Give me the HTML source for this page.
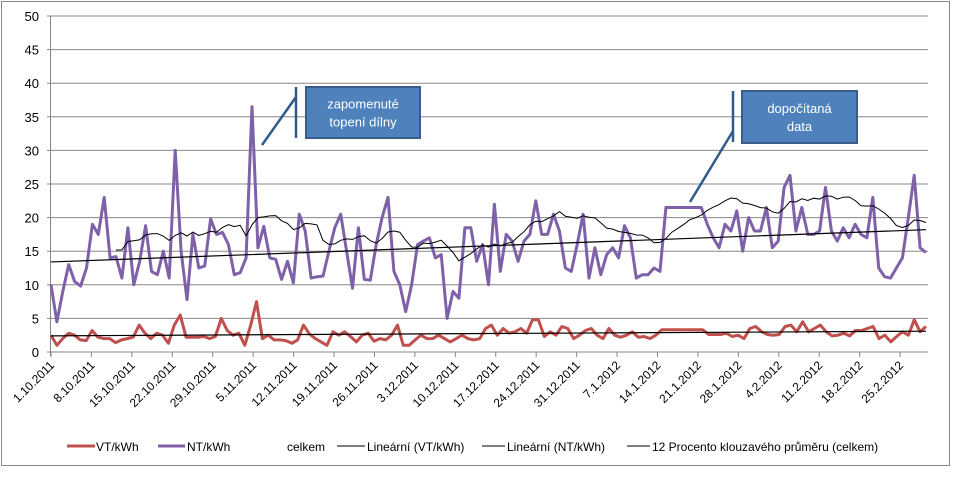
<!DOCTYPE html>
<html><head><meta charset="utf-8"><style>
body{margin:0;background:#fff;}
svg text{font-family:"Liberation Sans",sans-serif;}
</style></head><body>
<svg id="s" width="953" height="480" xmlns="http://www.w3.org/2000/svg">
<rect x="1.5" y="1.5" width="948" height="464" fill="#fff" stroke="#888" stroke-width="1"/>
<g id="g"></g>
</svg>
<script>
var NS="http://www.w3.org/2000/svg",g=document.getElementById('g');
function el(t,a,txt){var e=document.createElementNS(NS,t);for(var k in a)e.setAttribute(k,a[k]);if(txt!=null)e.textContent=txt;g.appendChild(e);return e;}
var X0=51,X1=926,Y0=352,S=6.72;
function Y(v){return Y0-v*S;}
for(var v=0;v<=50;v+=5){var y=Y(v);el('line',{x1:47,x2:X1+2,y1:y,y2:y,stroke:v?'#878787':'#878787','stroke-width':1});
el('text',{x:39,y:y+5,'text-anchor':'end','font-size':'13',fill:'#000'},v);}
el('line',{x1:50.5,x2:50.5,y1:Y(50),y2:Y0+4,stroke:'#878787'});
var labels=['1.10.2011','8.10.2011','15.10.2011','22.10.2011','29.10.2011','5.11.2011','12.11.2011','19.11.2011','26.11.2011','3.12.2011','10.12.2011','17.12.2011','24.12.2011','31.12.2011','7.1.2012','14.1.2012','21.1.2012','28.1.2012','4.2.2012','11.2.2012','18.2.2012','25.2.2012'];
var dpx=5.776;
labels.forEach(function(l,i){var x=X0+i*7*dpx;el('line',{x1:x,x2:x,y1:Y0,y2:Y0+5,stroke:'#878787'});
var t=el('text',{x:x+4,y:Y0+14,'text-anchor':'end','font-size':'12',transform:'rotate(-45 '+(x+4)+' '+(Y0+14)+')'},l);});
var NT=[10,4.5,9,13,10.5,9.8,12.5,19,17.5,23,14,14.2,11,18.5,10,13.5,18.8,12,11.5,15,11,30,15,7.8,17.5,12.5,12.8,19.8,17.5,17.8,16,11.5,11.8,14,36.5,15.5,18.7,14,13.8,10.8,13.5,10.3,20.5,18,11,11.2,11.3,15,18.5,20.5,15,9.5,18.5,10.8,10.7,16,20,23,12,10,6,10,16,16.5,17,14,14.5,5,9,8,18.5,18.5,13.5,16,10,22,12,17.5,16.5,13.5,16.5,17.5,22.5,17.5,17.5,20.5,18,12.5,12,16,20.5,11,15.5,11.5,14.5,15.5,14,18.8,17,11,11.5,11.5,12.5,12,21.5,21.5,21.5,21.5,21.5,21.5,21.5,19,17,15.5,19,18,21,15,20,18,18,21.5,15.5,16.5,24.5,26.3,18,21.5,17.5,17.5,18,24.5,18,16.5,18.5,17,19,17.5,17,23,12.5,11.2,11,12.5,14,20,26.3,15.5,14.8];
var VT=[2.5,1,2,2.8,2.5,1.8,1.7,3.2,2.2,2,2,1.4,1.8,2,2.2,4,2.8,2,2.8,2.5,1.3,4,5.5,2.2,2.2,2.2,2.3,2,2.3,5,3.2,2.5,2.8,1,4,7.5,2,2.5,1.8,1.8,1.7,1.3,1.8,4,2.7,2,1.5,1,3,2.5,3,2.3,1.5,2.5,2.8,1.6,2,1.8,2.5,4,1,1,1.8,2.5,2,2,2.5,2,1.5,2,2.5,2,1.8,2,3.5,4,2.5,3.5,2.8,3,3.5,2.8,4.8,4.8,2.3,3,2.5,3.8,3.5,2,2.5,3.2,3.5,2.5,2,3.5,2.5,2.2,2.5,3,2.2,2.3,2,2.5,3.3,3.3,3.3,3.3,3.3,3.3,3.3,3.3,2.6,2.6,2.6,2.8,2.3,2.5,2,3.5,3.8,3,2.6,2.5,2.6,3.8,4,3,4.5,3,3.5,4,3,2.4,2.5,2.8,2.4,3.2,3.2,3.5,3.8,2,2.5,1.5,2.3,3,2.5,4.8,3,3.8];
function xs(i,n){return X0+i*(X1-X0)/(n-1);}
function pts(a){return a.map(function(v,i){return xs(i,a.length).toFixed(1)+','+Y(v).toFixed(1);}).join(' ');}
// moving avg
var n=NT.length,ma=[];
for(var i=11;i<n;i++){var s=0;for(var j=i-11;j<=i;j++){s+=NT[j]+(VT[Math.round(j*(VT.length-1)/(n-1))]||2.5);}ma.push(xs(i,n).toFixed(1)+','+Y(s/12).toFixed(1));}
el('polyline',{points:pts(NT),fill:'none',stroke:'#7E61A8','stroke-width':3,'stroke-linejoin':'round'});
el('polyline',{points:pts(VT),fill:'none',stroke:'#C0504D','stroke-width':3,'stroke-linejoin':'round'});
el('polyline',{points:ma.join(' '),fill:'none',stroke:'#000','stroke-width':1});
el('line',{x1:X0,y1:Y(13.4),x2:X1,y2:Y(18.2),stroke:'#000','stroke-width':1.2});
el('line',{x1:X0,y1:Y(2.4),x2:X1,y2:Y(3.1),stroke:'#000','stroke-width':1.2});
// callouts
function callout(bx,by,bw,bh,lx,ly1,ly2,dx,dy,px,py,l1,l2){
el('line',{x1:lx,x2:lx,y1:ly1,y2:ly2,stroke:'#2F5A8A','stroke-width':2.5});
el('line',{x1:lx,y1:dy,x2:px,y2:py,stroke:'#2F5A8A','stroke-width':2.5});
el('rect',{x:bx,y:by,width:bw,height:bh,fill:'#4F81BD',stroke:'#385D8A','stroke-width':2});
el('text',{x:bx+bw/2,y:by+bh/2-4,'text-anchor':'middle','font-size':'13',fill:'#fff'},l1);
el('text',{x:bx+bw/2,y:by+bh/2+14,'text-anchor':'middle','font-size':'13',fill:'#fff'},l2);}
callout(306,87,114,51,296,87,138,0,97,262,145,'zapomenuté','topení dílny');
callout(742,91,115,52,733,91,142,0,131,690,202,'dopočítaná','data');
// legend
var ly=446;
el('line',{x1:67,x2:95,y1:ly,y2:ly,stroke:'#C0504D','stroke-width':3});
el('text',{x:96,y:ly+5,'font-size':'12'},'VT/kWh');
el('line',{x1:158,x2:185,y1:ly,y2:ly,stroke:'#7E61A8','stroke-width':3});
el('text',{x:187,y:ly+5,'font-size':'12'},'NT/kWh');
el('text',{x:287,y:ly+5,'font-size':'12'},'celkem');
el('line',{x1:337,x2:365,y1:ly,y2:ly,stroke:'#000'});
el('text',{x:367,y:ly+5,'font-size':'12'},'Lineární (VT/kWh)');
el('line',{x1:482,x2:505,y1:ly,y2:ly,stroke:'#000'});
el('text',{x:507,y:ly+5,'font-size':'12'},'Lineární (NT/kWh)');
el('line',{x1:627,x2:650,y1:ly,y2:ly,stroke:'#000'});
el('text',{x:652,y:ly+5,'font-size':'12'},'12 Procento klouzavého průměru (celkem)');
</script>
</body></html>
